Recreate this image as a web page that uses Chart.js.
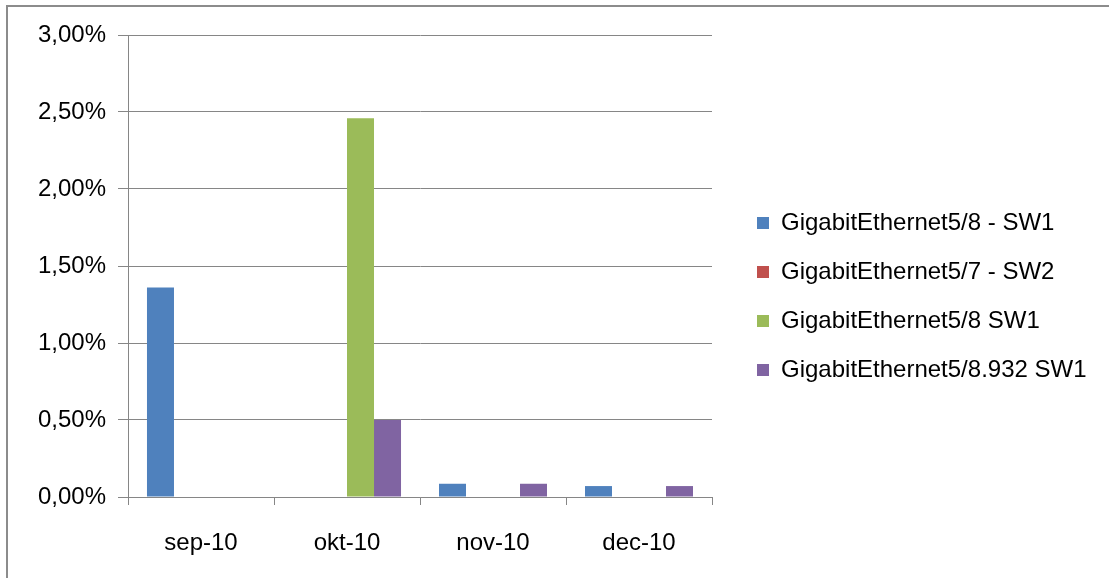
<!DOCTYPE html>
<html>
<head>
<meta charset="utf-8">
<script src="https://cdn.jsdelivr.net/npm/chart.js@4/dist/chart.umd.min.js"></script>
<style>
  html, body { margin: 0; padding: 0; background: #fff; }
  #wrap { position: relative; width: 1109px; height: 578px; overflow: hidden; }
  #frame { position: absolute; left: 6px; top: 5px; width: 1200px; height: 700px;
           border-left: 2px solid #8c8c8c; border-top: 2px solid #8c8c8c; pointer-events: none; }
</style>
</head>
<body>
<div id="wrap">
  <canvas id="chart" width="1109" height="578"></canvas>
  <div id="frame"></div>
</div>
<script>
const months = ['sep-10', 'okt-10', 'nov-10', 'dec-10'];
const seriesNames = ['GigabitEthernet5/8 - SW1', 'GigabitEthernet5/7 - SW2', 'GigabitEthernet5/8 SW1', 'GigabitEthernet5/8.932 SW1'];
// values as fractions (0.0136 = 1,36%)
const sw1Dash = [0.0136, 0, 0.00086, 0.00071];
const sw2Port7 = [0, 0, 0, 0];
const sw1Port8 = [0, 0.0246, 0, 0];
const sw1Sub932 = [0, 0.0050, 0.00086, 0.00071];
const colors = ['#4F81BD', '#C0504D', '#9BBB59', '#8064A2'];

const gridGray = '#868686';
const font = { family: 'Liberation Sans', size: 24 };

function pct(v) {
  return (v * 100).toFixed(2).replace('.', ',') + '%';
}

// fix legend width so the plot area ends where it does in the original,
// and nudge the legend items to where they sit in the original
const legendFix = {
  id: 'legendFix',
  beforeInit(chart) {
    const legend = chart.legend;
    const origFit = legend.fit;
    legend.fit = function () {
      origFit.call(this);
      this.width = 397;
    };
    const origDraw = legend._draw;
    legend._draw = function () {
      this.ctx.save();
      this.ctx.translate(20, -10);
      origDraw.call(this);
      this.ctx.restore();
    };
  }
};

const ctx = document.getElementById('chart').getContext('2d');
new Chart(ctx, {
  type: 'bar',
  data: {
    labels: months,
    datasets: [sw1Dash, sw2Port7, sw1Port8, sw1Sub932].map((vals, i) => ({
      label: seriesNames[i],
      data: vals,
      backgroundColor: colors[i],
      borderWidth: 0,
      categoryPercentage: 0.74,
      barPercentage: 1.0,
    })),
  },
  plugins: [legendFix],
  options: {
    responsive: false,
    animation: false,
    layout: { padding: { top: 35, left: 0, right: 0, bottom: 0 } },
    plugins: {
      tooltip: { enabled: false },
      legend: {
        position: 'right',
        align: 'center',
        labels: {
          font: font,
          color: '#000',
          boxWidth: 12,
          boxHeight: 12,
          padding: 25,
        },
      },
    },
    scales: {
      x: {
        offset: true,
        grid: { display: true, drawOnChartArea: false, offset: true, color: gridGray, tickLength: 8 },
        border: { color: gridGray },
        ticks: { font: font, color: '#000', padding: 24, maxRotation: 0 },
        afterFit(scale) { scale.height = 81; },
      },
      y: {
        min: 0,
        max: 0.03,
        grid: { color: gridGray, tickLength: 10 },
        border: { color: gridGray },
        ticks: { stepSize: 0.005, font: font, color: '#000', padding: 12, callback: v => pct(v) },
        afterFit(scale) { scale.width = 128; },
      },
    },
  },
});
</script>
</body>
</html>
